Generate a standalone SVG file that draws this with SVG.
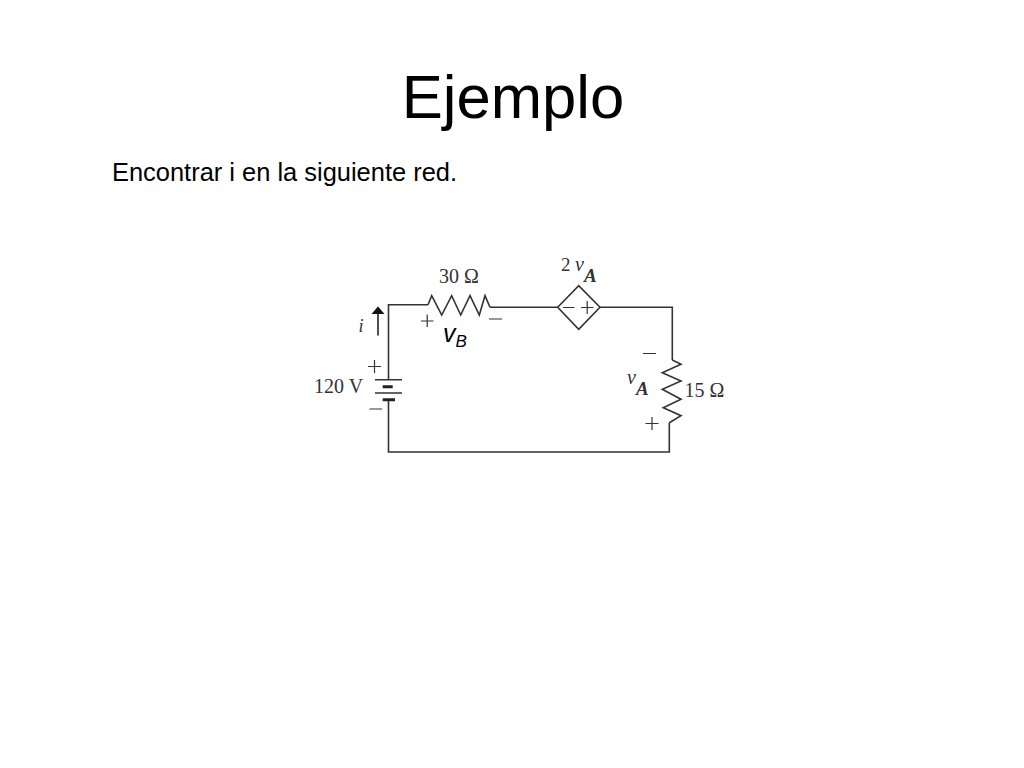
<svg xmlns="http://www.w3.org/2000/svg" width="1024" height="768" viewBox="0 0 1024 768">
<style>
.s{font-family:"Liberation Sans",Arial,sans-serif;fill:#000}
.m{font-family:"Liberation Serif","Times New Roman",serif;fill:#333}
.b{font-style:italic;font-weight:bold;font-size:19px}
.w{fill:none;stroke:#333;stroke-width:1.6;stroke-linejoin:miter}
.p{fill:none;stroke:#333;stroke-width:1.2}
</style>
<rect width="1024" height="768" fill="#fff"/>
<text class="s" x="513" y="118" font-size="61.600" text-anchor="middle">Ejemplo</text>
<text class="s" x="112" y="181" font-size="25.400" textLength="345" lengthAdjust="spacingAndGlyphs">Encontrar i en la siguiente red.</text>
<g id="connectors">
<path class="w" d="M388.500 379.700V304.700H428"/>
<path class="w" d="M388.500 399.700V452H669.300V422.700"/>
<path class="w" d="M490 307.300H557.700"/>
<path class="w" d="M600 307.300H672.300V360"/>
</g>
<g id="resistor-30">
<path class="w" d="M428 304.700L431.700 295.700L441.700 315L451.700 295.700L460.700 315L470 295.700L479.300 315L485 295.700L490 307.300"/>
<text class="m" x="439" y="283" font-size="20">30 Ω</text>
<path class="p" d="M421 321H433.500M489 319H502M427.200 314.500V327"/>
</g>
<text id="vB" class="s" x="443" y="342" font-size="25" font-style="italic">v<tspan font-size="17" dy="5">B</tspan></text>
<g id="current-i">
<path d="M378 307.500V335.500" stroke="#222" stroke-width="1.600" fill="none"/>
<path d="M371.500 314L378 306.500L384.500 314Z" fill="#111"/>
<text class="m" x="358.500" y="332" font-size="18" font-style="italic">i</text>
</g>
<g id="battery">
<path class="w" d="M375 379.700H402M375 393H402"/>
<path d="M382.700 386.700H392.700M382.700 399.700H395" stroke="#222" stroke-width="3" fill="none"/>
<text class="m" x="314" y="393" font-size="20">120 V</text>
<path class="p" d="M368 366.500H381M374.500 360V373M369.500 409H382"/>
</g>
<g id="source-2vA">
<path class="w" d="M557.700 307.300L578.700 285.700L600 307.300L578.700 329.300Z"/>
<path class="p" d="M563 307.500H574.500M581 307.500H593.500M587.200 301V314"/>
<text class="m" x="561" y="271" font-size="19">2 <tspan x="575" font-size="20" font-style="italic">v</tspan><tspan class="b" x="584" dy="11">A</tspan></text>
</g>
<g id="resistor-15">
<path class="w" d="M672.300 360L681 364.300L662.300 372.700L681 381L662.300 389.300L681 399.300L663.300 407.700L681 415.700L669.300 422.700"/>
<text class="m" x="684.500" y="397" font-size="20">15 Ω</text>
<path class="p" d="M643 353.500H656M645.500 423.500H658.500M652 417V430"/>
<text class="m" x="627" y="384" font-size="20" font-style="italic">v<tspan class="b" x="636" dy="11">A</tspan></text>
</g>
</svg>
